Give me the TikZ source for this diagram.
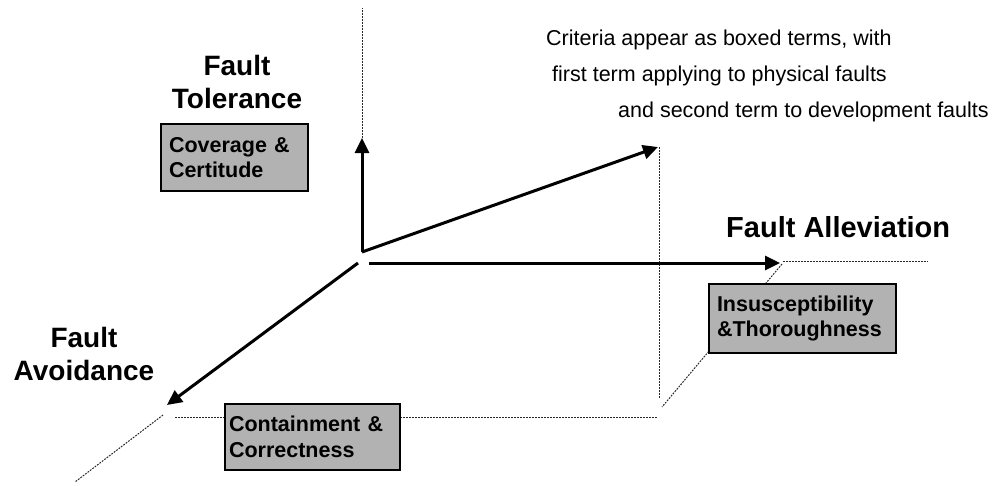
\documentclass[tikz,border=0pt]{standalone}
\usepackage{fontspec}
\setmainfont{Liberation Sans}
\usetikzlibrary{arrows.meta}
\begin{document}
\begin{tikzpicture}[x=1pt,y=-1pt,
  axis/.style={line width=3pt,-{Triangle[length=15pt,width=14pt]}},
  guide/.style={line width=1pt,dash pattern=on 1.8pt off 1.2pt,black!85},
  termbox/.style={draw=black,line width=2.4pt,fill=black!30,align=left,
    inner ysep=0pt,font=\fontsize{21.5}{25.5}\selectfont\bfseries},
  axislabel/.style={align=center,font=\fontsize{28}{33}\selectfont\bfseries},
  note/.style={anchor=base west,inner sep=0pt,font=\fontsize{21.5}{24}\selectfont}]
\useasboundingbox (0,0) rectangle (996,485);

% axis end points and guide corners
\coordinate (o)    at (362,252);
\coordinate (up)   at (362,138);
\coordinate (top)  at (362,8);
\coordinate (dp)   at (658,147);
\coordinate (dpf)  at (659,147);
\coordinate (dpb)  at (659,398);
\coordinate (hs)   at (369,263);
\coordinate (he)   at (780,263);
\coordinate (hf)   at (783,261);
\coordinate (hr)   at (928,261);
\coordinate (hd)   at (782,264);
\coordinate (hb)   at (662,407);
\coordinate (ls)   at (358,263);
\coordinate (le)   at (167,405);
\coordinate (lf)   at (163,415);
\coordinate (lb)   at (75,482);
\coordinate (bl)   at (175,417);
\coordinate (br)   at (657,417);

% dotted guide lines
\draw[guide] (up) -- (top);
\draw[guide] (dpf) -- (dpb);
\draw[guide] (hf) -- (hr);
\draw[guide] (hd) -- (hb);
\draw[guide] (lf) -- (lb);
\draw[guide] (bl) -- (br);

% the three axes
\draw[axis] (o) -- (up);
\draw[axis] (o) -- (dp);
\draw[axis] (hs) -- (he);
\draw[axis] (ls) -- (le);

% criteria boxes
\node[termbox,minimum width=147pt,minimum height=67pt,text width=131pt,inner xsep=8pt]
  (cov) at (234.5,157.5) {Coverage \&\\Certitude};
\node[termbox,minimum width=187pt,minimum height=69pt,text width=171pt,inner xsep=8pt]
  (ins) at (802.5,318.5) {Insusceptibility\\\&Thoroughness};
\node[termbox,minimum width=175pt,minimum height=66pt,text width=167pt,inner xsep=4pt]
  (con) at (312.5,437) {Containment \&\\Correctness};

% axis names
\node[axislabel] (tol) at (237,82) {Fault\\Tolerance};
\node[axislabel] (avo) at (84,354) {Fault\\Avoidance};
\node[anchor=base west,inner sep=0pt,font=\fontsize{29}{33}\selectfont\bfseries]
  (all) at (726,237) {Fault Alleviation};

% explanatory note
\node[note] (n1) at (546,45) {Criteria appear as boxed terms, with};
\node[note] (n2) at (552,81) {first term applying to physical faults};
\node[note] (n3) at (618,117) {and second term to development faults};
\end{tikzpicture}
\end{document}
